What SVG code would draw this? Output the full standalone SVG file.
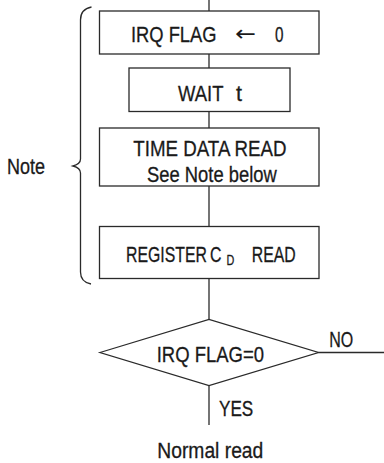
<svg xmlns="http://www.w3.org/2000/svg" width="384" height="463" viewBox="0 0 384 463">
<style>
.s{fill:#fff;stroke:#2a2a2a;stroke-width:1.3}
.l{fill:none;stroke:#2a2a2a;stroke-width:1.3}
text{font-family:"Liberation Sans",Arial,sans-serif;font-size:22px;fill:#1a1a1a;stroke:#1a1a1a;stroke-width:0.3}
.arr{font-family:"DejaVu Sans",sans-serif;stroke-width:0}
.sub{font-size:15px}
</style>
<rect width="384" height="463" fill="#fff"/>
<g id="connectors">
<line class="l" x1="209" y1="0" x2="209" y2="425"/>
<line class="l" x1="318.5" y1="352.5" x2="384" y2="352.5"/>
<path id="brace" class="l" d="M91.5,7 Q80.5,9 80.5,20 L80.5,159 Q80.5,164 73,166 Q80.5,168 80.5,173 L80.5,272 Q80.5,282 91,284"/>
</g>
<g id="n1">
<rect class="s" x="99.5" y="11" width="219.5" height="43"/>
<text x="131" y="41.7" textLength="85.5" lengthAdjust="spacingAndGlyphs">IRQ FLAG</text>
<text class="arr" x="235" y="41" textLength="21" lengthAdjust="spacingAndGlyphs">←</text>
<text x="275" y="41.7" textLength="8.5" lengthAdjust="spacingAndGlyphs">0</text>
</g>
<g id="n2">
<rect class="s" x="129" y="68" width="161" height="43.5"/>
<text x="178" y="100.7" textLength="45.5" lengthAdjust="spacingAndGlyphs">WAIT</text>
<text x="236" y="100.7" textLength="6" lengthAdjust="spacingAndGlyphs">t</text>
</g>
<g id="n3">
<rect class="s" x="99.5" y="128" width="219.5" height="58"/>
<text x="133.3" y="156" textLength="153.3" lengthAdjust="spacingAndGlyphs">TIME DATA READ</text>
<text x="147" y="182" textLength="129.7" lengthAdjust="spacingAndGlyphs">See Note below</text>
</g>
<g id="n4">
<rect class="s" x="99.5" y="226.5" width="219.5" height="52"/>
<text transform="translate(126,261.7) scale(0.72,1)"><tspan x="0" y="0">REGISTER</tspan><tspan x="116.7" y="0">C</tspan><tspan class="sub" x="139.6" y="3.3">D</tspan><tspan x="174.6" y="0">READ</tspan></text>
</g>
<g id="n5">
<polygon class="s" points="100,352.5 209,319.5 318.5,352.5 209,385.5"/>
<text x="156.7" y="361.7" textLength="107.3" lengthAdjust="spacingAndGlyphs">IRQ FLAG=0</text>
</g>
<g id="labels">
<text x="329.3" y="346.7" textLength="24" lengthAdjust="spacingAndGlyphs">NO</text>
<text x="219" y="416" textLength="34.3" lengthAdjust="spacingAndGlyphs">YES</text>
<text x="157.3" y="458.3" textLength="106" lengthAdjust="spacingAndGlyphs">Normal read</text>
<text x="7" y="174" textLength="38" lengthAdjust="spacingAndGlyphs">Note</text>
</g>
</svg>
